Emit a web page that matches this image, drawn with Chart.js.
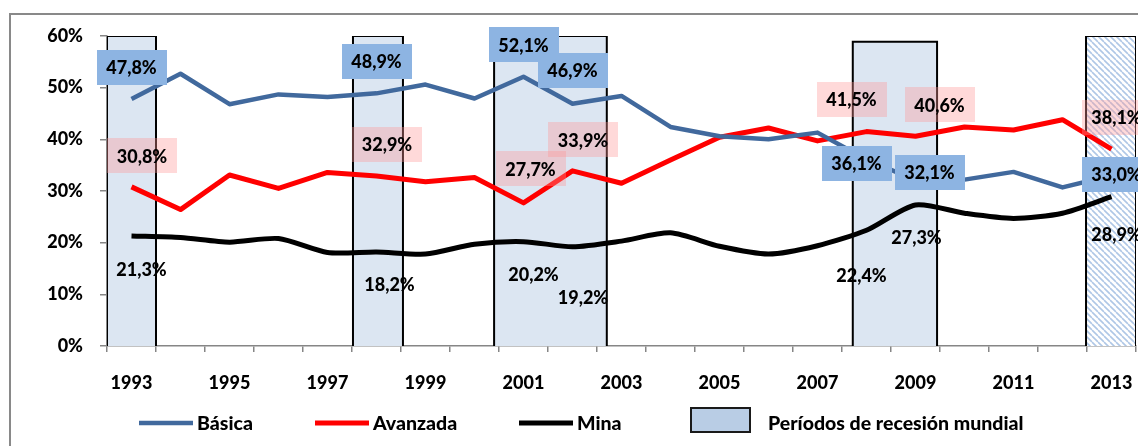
<!DOCTYPE html>
<html>
<head>
<meta charset="utf-8">
<script src="https://cdn.jsdelivr.net/npm/chart.js@4.4.1/dist/chart.umd.min.js"></script>
<style>
  html, body { margin: 0; padding: 0; background: #fff; }
  #c { display: block; }
</style>
</head>
<body>
<canvas id="c" width="1138" height="446"></canvas>
<script>
// ---------- DATA ----------
const years = [1993,1994,1995,1996,1997,1998,1999,2000,2001,2002,2003,2004,2005,2006,2007,2008,2009,2010,2011,2012,2013];
const xTickLabels = [1993,1995,1997,1999,2001,2003,2005,2007,2009,2011,2013];
const yTickValues = [0,10,20,30,40,50,60];

const basica   = [47.8,52.7,46.8,48.7,48.2,48.9,50.6,47.9,52.1,46.9,48.4,42.4,40.6,40.0,41.3,36.1,32.1,32.2,33.7,30.7,33.0];
const avanzada = [30.8,26.4,33.1,30.5,33.6,32.9,31.8,32.6,27.7,33.9,31.5,36.0,40.4,42.2,39.7,41.5,40.6,42.4,41.8,43.8,38.1];
const mina     = [21.3,21.0,20.1,20.8,18.1,18.2,17.8,19.7,20.2,19.2,20.3,21.9,19.3,17.8,19.4,22.4,27.3,25.7,24.7,25.7,28.9];

// years whose values are labelled
const labelledYears = [1993,1998,2001,2002,2008,2009,2013];

// recession periods (in year units on the category scale)
const recessionStart = [1992.5, 1997.52, 2000.4, 2007.72, 2012.48];
const recessionEnd   = [1993.5, 1998.54, 2002.7, 2009.44, 2013.5];
const recessionTop   = [60, 60, 60, 58.9, 60];
const recessionHatched = [false, false, false, false, true];

const seriesNames = ['Básica', 'Avanzada', 'Mina'];
const recessionName = 'Períodos de recesión mundial';

// ---------- STYLE ----------
const FONT = 'Lato, "Open Sans", sans-serif';
const WEIGHT = '900';
const colors = { basica: '#41699D', avanzada: '#FF0000', mina: '#000000' };
// label box offsets (px) relative to the point, per labelled year
const labelStyles = [
  { box: '#8DB4E2', offsets: [[0,-31.5],[0,-32],[0,-32],[0,-33],[-10,4],[14,-7.5],[5,-1]] },
  { box: 'rgba(255,150,150,0.36)', offsets: [[10.5,-31],[10.5,-31.5],[7,-34],[10.5,-31],[-15,-32],[24,-31.5],[5,-31.5]] },
  { box: null, offsets: [[10,33],[13,32],[10,33],[10.5,50],[-5,45],[1,32.6],[5,38]] }
];

function fmt(v) { return v.toFixed(1).replace('.', ',') + '%'; }

// hatch pattern for the last period
function makeHatch() {
  const s = 6;
  const pc = document.createElement('canvas');
  pc.width = s; pc.height = s;
  const p = pc.getContext('2d');
  p.fillStyle = '#ffffff';
  p.fillRect(0, 0, s, s);
  p.strokeStyle = '#AFC7E6';
  p.lineWidth = 1.6;
  p.beginPath();
  for (const k of [-s, 0, s]) { p.moveTo(k, 0); p.lineTo(k + s, s); }
  p.stroke();
  return p.createPattern(pc, 'repeat');
}
const hatch = makeHatch();

const recessionDatasets = recessionStart.map((s, i) => ({
  label: recessionName,
  xAxisID: 'xr',
  data: [{x: s, y: 0}, {x: s, y: recessionTop[i]}, {x: recessionEnd[i], y: recessionTop[i]}, {x: recessionEnd[i], y: 0}],
  borderColor: '#000000',
  borderWidth: 2,
  backgroundColor: recessionHatched[i] ? hatch : '#DCE6F2',
  fill: 'origin',
  pointRadius: 0,
  pointHoverRadius: 0,
  tension: 0,
  borderJoinStyle: 'miter',
  order: 10
}));

const labelPlugin = {
  id: 'valueLabels',
  afterDatasetsDraw(chart) {
    const ctx = chart.ctx;
    const series = [basica, avanzada, mina];
    ctx.save();
    ctx.font = WEIGHT + ' 18px ' + FONT;
    ctx.textAlign = 'center';
    ctx.textBaseline = 'middle';
    labelStyles.forEach((st, si) => {
      const meta = chart.getDatasetMeta(si);
      labelledYears.forEach((yr, k) => {
        const idx = years.indexOf(yr);
        const pt = meta.data[idx];
        const cx = pt.x + st.offsets[k][0];
        const cy = pt.y + st.offsets[k][1];
        if (st.box) {
          ctx.fillStyle = st.box;
          ctx.fillRect(Math.round(cx - 35), Math.round(cy - 17.5), 70, 35);
        }
        ctx.fillStyle = '#000';
        ctx.fillText(fmt(series[si][idx]), cx, cy + 1);
      });
    });
    ctx.restore();
  }
};

const framePlugin = {
  id: 'frame',
  beforeDraw(chart) {
    const ctx = chart.ctx;
    ctx.save();
    ctx.fillStyle = '#fff';
    ctx.fillRect(0, 0, chart.width, chart.height);
    ctx.strokeStyle = '#898989';
    ctx.lineWidth = 2;
    ctx.strokeRect(10, 14, 1400, 600);
    ctx.restore();
  }
};

const legendPlugin = {
  id: 'customLegend',
  afterDraw(chart) {
    const ctx = chart.ctx;
    const y = 423;
    ctx.save();
    ctx.font = WEIGHT + ' 19.5px ' + FONT;
    ctx.textBaseline = 'middle';
    ctx.textAlign = 'left';
    const lineItems = [
      { name: seriesNames[0], color: colors.basica, w: 4.5, x: 139 },
      { name: seriesNames[1], color: colors.avanzada, w: 5, x: 315 },
      { name: seriesNames[2], color: colors.mina, w: 5, x: 519 }
    ];
    lineItems.forEach(it => {
      ctx.strokeStyle = it.color;
      ctx.lineWidth = it.w;
      ctx.beginPath();
      ctx.moveTo(it.x, y);
      ctx.lineTo(it.x + 54, y);
      ctx.stroke();
      ctx.fillStyle = '#000';
      ctx.fillText(it.name, it.x + 58, y + 1);
    });
    ctx.fillStyle = '#B9CDE5';
    ctx.fillRect(691, 408, 59, 24);
    ctx.strokeStyle = '#1a1a1a';
    ctx.lineWidth = 2;
    ctx.strokeRect(691, 408, 59, 24);
    ctx.fillStyle = '#000';
    ctx.fillText(recessionName, 768, y + 1);
    ctx.restore();
  }
};

const tickFont = { family: FONT, weight: WEIGHT, size: 18 };

new Chart(document.getElementById('c').getContext('2d'), {
  type: 'line',
  data: {
    labels: years,
    datasets: [
      { label: seriesNames[0], data: basica, borderColor: colors.basica, borderWidth: 4.5, pointRadius: 0, pointHoverRadius: 0, tension: 0, borderJoinStyle: 'round', fill: false, order: 0 },
      { label: seriesNames[1], data: avanzada, borderColor: colors.avanzada, borderWidth: 5, pointRadius: 0, pointHoverRadius: 0, tension: 0, borderJoinStyle: 'round', fill: false, order: 0 },
      { label: seriesNames[2], data: mina, borderColor: colors.mina, borderWidth: 5, pointRadius: 0, pointHoverRadius: 0, tension: 0.25, borderJoinStyle: 'round', fill: false, order: 0 },
      ...recessionDatasets
    ]
  },
  options: {
    responsive: false,
    animation: false,
    devicePixelRatio: 1,
    events: [],
    layout: { padding: { left: 0, right: 2, top: 36, bottom: 0 } },
    plugins: { legend: { display: false }, tooltip: { enabled: false } },
    scales: {
      x: {
        type: 'category',
        offset: true,
        z: 1,
        grid: { offset: true, drawOnChartArea: false, tickLength: 6, color: '#868686', lineWidth: 1.5 },
        border: { color: '#868686', width: 1.5 },
        ticks: {
          autoSkip: false, maxRotation: 0, minRotation: 0, padding: 20, color: '#000', font: tickFont,
          callback: (v, i) => xTickLabels.includes(years[i]) ? String(years[i]) : ''
        },
        afterFit: s => { s.height = 100; s.paddingLeft = 0; s.paddingRight = 0; }
      },
      xr: { type: 'linear', display: false, min: 1992.5, max: 2013.5 },
      y: {
        min: 0, max: 60,
        z: 1,
        afterBuildTicks: s => { s.ticks = yTickValues.map(v => ({ value: v })); },
        ticks: { padding: 17, color: '#000', font: tickFont, callback: v => v + '%' },
        grid: { drawOnChartArea: false, tickLength: 7, color: '#868686', lineWidth: 1.5 },
        border: { color: '#868686', width: 1.5 },
        afterFit: s => { s.width = 107; s.paddingTop = 0; s.paddingBottom = 0; }
      }
    }
  },
  plugins: [framePlugin, labelPlugin, legendPlugin]
});
</script>
</body>
</html>
